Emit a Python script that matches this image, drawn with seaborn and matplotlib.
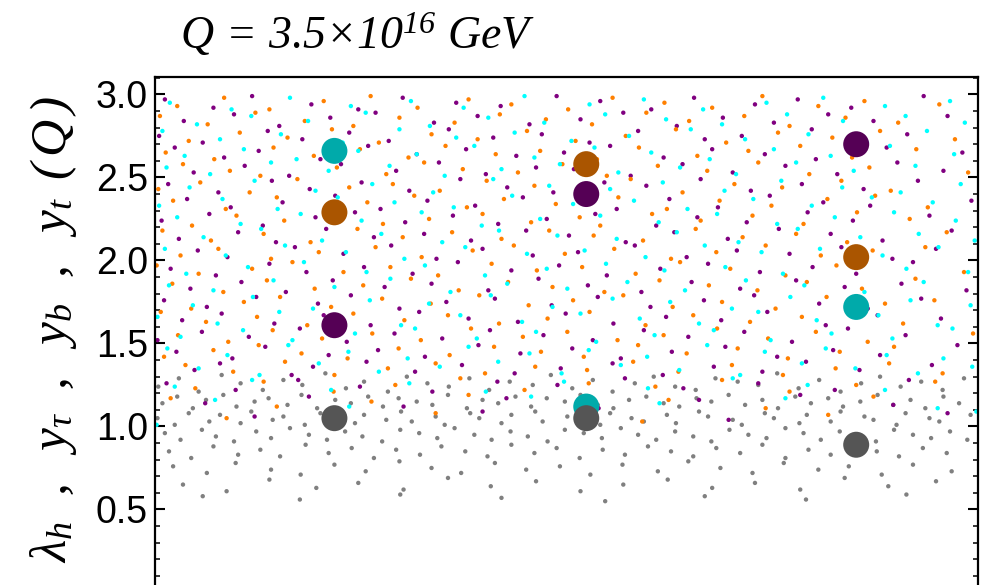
import matplotlib
matplotlib.use("Agg")
import matplotlib.pyplot as plt
import pandas as pd
import seaborn as sns
from matplotlib.ticker import MultipleLocator

# ---------------- data (read / estimated from the picture) ----------------
# x axis has no visible scale: positions are given on an arbitrary 0..1000 range
purple_x = [12, 71, 118, 190, 247, 301, 366, 420, 488, 541, 603, 655, 729, 781, 846, 934,
            35, 96, 151, 213, 268, 339, 392, 455, 517, 569, 634, 690, 752, 818, 873, 963,
            5, 58, 137, 179, 236, 284, 357, 411, 470, 528, 587, 668, 713, 798, 857, 914,
            24, 84, 126, 201, 259, 318, 378, 439, 497, 553, 618, 677, 741, 803, 889, 981,
            47, 109, 163, 226, 293, 345, 402, 463, 509, 578, 641, 702, 766, 829, 902, 958,
            16, 77, 142, 188, 251, 309, 371, 428, 484, 546, 597, 663, 724, 786, 861, 927,
            39, 92, 155, 219, 274, 331, 389, 447, 521, 561, 625, 684, 747, 812, 869, 992,
            8, 66, 131, 195, 243, 304, 362, 417, 476, 535, 609, 659, 719, 793, 848, 941,
            29, 101, 147, 208, 266, 327, 384, 451, 503, 572, 631, 696, 758, 821, 884, 968,
            52, 88, 170, 229, 287, 342, 398, 459, 514, 583, 646, 707, 771, 834, 896, 949,
            19, 74, 139, 184, 254, 313, 368, 433, 491, 549, 614, 672, 735, 799, 852, 921,
            43, 105, 159, 216, 279, 336, 405, 466, 526, 591, 652, 711, 779, 838, 907, 986,
            11, 63, 123, 198, 238, 297, 354, 413, 482, 538, 602, 667, 728, 807, 866, 931,
            33, 81, 145, 205, 262, 321, 381, 441, 499, 557, 621, 688, 744, 815, 878, 955,
            3, 57, 114, 176, 233, 291, 349, 407, 472, 532, 594, 648, 716, 774, 842, 912,
            26, 94, 134, 211, 271, 328, 393, 444, 507, 566, 628, 693, 756, 824, 881, 975,
            48, 79, 166, 192, 257, 316, 373, 437, 493, 556, 617, 679, 738, 791, 856, 944,
            14, 98, 174, 249, 337, 416, 489, 571, 642, 733, 826, 916,
            61, 187, 302, 427, 539, 661, 784, 897,
            121, 398, 697, 963]
purple_y = [2.97, 2.92, 2.99, 2.94, 2.91, 2.98, 2.95, 2.93, 2.99, 2.96, 2.91, 2.98, 2.94, 2.97, 2.92, 2.99,
            2.84, 2.88, 2.81, 2.86, 2.89, 2.83, 2.87, 2.82, 2.85, 2.89, 2.81, 2.86, 2.83, 2.88, 2.84, 2.87,
            2.75, 2.71, 2.78, 2.73, 2.77, 2.72, 2.79, 2.74, 2.76, 2.71, 2.78, 2.73, 2.75, 2.79, 2.72, 2.76,
            2.68, 2.62, 2.66, 2.61, 2.69, 2.64, 2.67, 2.63, 2.65, 2.69, 2.62, 2.67, 2.64, 2.61, 2.68, 2.65,
            2.53, 2.57, 2.51, 2.58, 2.54, 2.59, 2.52, 2.56, 2.55, 2.51, 2.58, 2.53, 2.57, 2.52, 2.59, 2.54,
            2.46, 2.41, 2.48, 2.43, 2.47, 2.42, 2.49, 2.44, 2.41, 2.47, 2.45, 2.49, 2.42, 2.46, 2.43, 2.48,
            2.37, 2.32, 2.35, 2.39, 2.31, 2.36, 2.33, 2.38, 2.34, 2.31, 2.37, 2.32, 2.39, 2.35, 2.33, 2.36,
            2.24, 2.28, 2.21, 2.26, 2.29, 2.23, 2.27, 2.22, 2.25, 2.28, 2.21, 2.26, 2.23, 2.29, 2.24, 2.27,
            2.13, 2.17, 2.11, 2.19, 2.14, 2.16, 2.12, 2.18, 2.15, 2.11, 2.17, 2.13, 2.19, 2.16, 2.12, 2.18,
            2.06, 2.02, 2.08, 2.04, 2.09, 2.01, 2.07, 2.03, 2.05, 2.09, 2.02, 2.06, 2.04, 2.08, 2.01, 2.07,
            1.95, 1.91, 1.98, 1.93, 1.96, 1.92, 1.99, 1.94, 1.97, 1.91, 1.95, 1.98, 1.93, 1.96, 1.92, 1.99,
            1.83, 1.87, 1.81, 1.88, 1.84, 1.86, 1.82, 1.89, 1.85, 1.81, 1.87, 1.83, 1.88, 1.84, 1.86, 1.82,
            1.76, 1.72, 1.78, 1.74, 1.79, 1.71, 1.75, 1.77, 1.73, 1.78, 1.72, 1.76, 1.79, 1.74, 1.71, 1.77,
            1.64, 1.68, 1.62, 1.67, 1.61, 1.69, 1.65, 1.63, 1.68, 1.62, 1.66, 1.64, 1.69, 1.61, 1.67, 1.65,
            1.52, 1.57, 1.54, 1.59, 1.51, 1.56, 1.53, 1.58, 1.55, 1.52, 1.58, 1.54, 1.57, 1.51, 1.59, 1.55,
            1.45, 1.41, 1.48, 1.43, 1.46, 1.42, 1.49, 1.44, 1.47, 1.41, 1.45, 1.48, 1.42, 1.46, 1.43, 1.49,
            1.34, 1.38, 1.31, 1.36, 1.39, 1.33, 1.37, 1.32, 1.35, 1.38, 1.31, 1.36, 1.33, 1.39, 1.34, 1.37,
            1.26, 1.22, 1.28, 1.24, 1.21, 1.27, 1.25, 1.29, 1.23, 1.26, 1.22, 1.28,
            1.14, 1.18, 1.12, 1.17, 1.11, 1.16, 1.19, 1.13,
            1.06, 1.09, 1.04, 1.08]

orange_x = [27, 84, 139, 205, 262, 319, 381, 433, 502, 556, 619, 677, 738, 806, 862, 953,
            6, 64, 122, 182, 241, 297, 364, 419, 475, 531, 597, 649, 716, 771, 839, 903,
            41, 103, 161, 215, 272, 336, 392, 452, 511, 572, 633, 694, 757, 823, 881, 972,
            13, 72, 144, 193, 249, 308, 353, 414, 468, 537, 588, 659, 721, 784, 847, 925,
            34, 91, 128, 221, 281, 327, 374, 441, 495, 549, 611, 671, 733, 795, 868, 988,
            4, 55, 115, 173, 236, 289, 346, 403, 461, 524, 578, 641, 704, 762, 834, 894,
            22, 86, 148, 209, 258, 315, 379, 424, 487, 563, 622, 686, 749, 817, 875, 939,
            45, 99, 157, 226, 277, 333, 398, 457, 516, 541, 604, 663, 726, 788, 853, 917,
            9, 68, 132, 189, 246, 301, 361, 421, 479, 533, 593, 657, 714, 779, 841, 962,
            31, 77, 141, 199, 268, 324, 386, 436, 498, 558, 627, 682, 742, 809, 872, 936,
            2, 53, 118, 167, 229, 286, 344, 409, 464, 519, 584, 638, 699, 766, 828, 983,
            21, 83, 136, 194, 253, 311, 369, 429, 483, 546, 613, 673, 732, 792, 859, 924,
            44, 108, 152, 214, 276, 335, 394, 454, 508, 569, 629, 689, 754, 816, 887, 947,
            7, 62, 124, 185, 241, 303, 356, 418, 477, 528, 596, 654, 723, 786, 845, 909,
            28, 89, 143, 203, 264, 323, 384, 447, 501, 562, 618, 683, 745, 803, 866, 994,
            11, 71, 126, 178, 234, 296, 358, 412, 469, 521, 587, 646, 708, 769, 832, 898,
            37, 95, 158, 218, 283, 341, 401, 462, 525, 581, 636, 701, 763, 827, 892, 957,
            49, 132, 217, 292, 371, 449, 527, 608, 689, 771, 852, 948,
            19, 148, 263, 381, 518, 624, 742, 873,
            87, 341, 592, 818]
orange_y = [2.93, 2.98, 2.91, 2.96, 2.99, 2.92, 2.97, 2.94, 2.91, 2.98, 2.95, 2.92, 2.99, 2.93, 2.96, 2.94,
            2.87, 2.82, 2.89, 2.84, 2.81, 2.86, 2.83, 2.88, 2.85, 2.82, 2.89, 2.84, 2.87, 2.81, 2.86, 2.83,
            2.72, 2.77, 2.74, 2.79, 2.71, 2.76, 2.73, 2.78, 2.72, 2.75, 2.79, 2.71, 2.77, 2.74, 2.78, 2.73,
            2.65, 2.61, 2.68, 2.63, 2.67, 2.62, 2.69, 2.64, 2.66, 2.61, 2.68, 2.63, 2.66, 2.69, 2.62, 2.67,
            2.58, 2.54, 2.51, 2.56, 2.52, 2.59, 2.55, 2.53, 2.58, 2.51, 2.57, 2.54, 2.59, 2.52, 2.56, 2.53,
            2.43, 2.47, 2.41, 2.49, 2.44, 2.46, 2.42, 2.48, 2.45, 2.43, 2.49, 2.41, 2.46, 2.44, 2.48, 2.42,
            2.36, 2.31, 2.38, 2.33, 2.35, 2.39, 2.32, 2.37, 2.34, 2.38, 2.31, 2.36, 2.33, 2.37, 2.39, 2.32,
            2.21, 2.27, 2.24, 2.29, 2.22, 2.25, 2.28, 2.23, 2.26, 2.21, 2.28, 2.24, 2.27, 2.22, 2.29, 2.25,
            2.18, 2.12, 2.16, 2.11, 2.19, 2.14, 2.17, 2.13, 2.18, 2.15, 2.12, 2.19, 2.14, 2.16, 2.11, 2.17,
            2.03, 2.07, 2.01, 2.05, 2.08, 2.02, 2.06, 2.09, 2.04, 2.07, 2.01, 2.05, 2.09, 2.03, 2.06, 2.08,
            1.97, 1.92, 1.95, 1.99, 1.93, 1.96, 1.91, 1.98, 1.94, 1.96, 1.92, 1.99, 1.95, 1.91, 1.97, 1.93,
            1.86, 1.81, 1.88, 1.83, 1.85, 1.89, 1.82, 1.87, 1.84, 1.81, 1.88, 1.85, 1.82, 1.87, 1.83, 1.89,
            1.71, 1.75, 1.78, 1.72, 1.77, 1.74, 1.79, 1.73, 1.76, 1.79, 1.72, 1.75, 1.71, 1.78, 1.74, 1.76,
            1.69, 1.63, 1.66, 1.61, 1.68, 1.64, 1.67, 1.62, 1.65, 1.69, 1.61, 1.67, 1.63, 1.66, 1.68, 1.62,
            1.55, 1.51, 1.58, 1.53, 1.56, 1.52, 1.59, 1.54, 1.57, 1.52, 1.55, 1.59, 1.53, 1.57, 1.51, 1.56,
            1.42, 1.46, 1.49, 1.44, 1.41, 1.47, 1.43, 1.48, 1.45, 1.42, 1.49, 1.44, 1.47, 1.41, 1.45, 1.48,
            1.37, 1.33, 1.39, 1.31, 1.35, 1.38, 1.32, 1.36, 1.34, 1.39, 1.33, 1.37, 1.31, 1.35, 1.38, 1.32,
            1.23, 1.27, 1.21, 1.25, 1.29, 1.22, 1.26, 1.24, 1.28, 1.21, 1.25, 1.27,
            1.17, 1.12, 1.15, 1.19, 1.13, 1.16, 1.11, 1.18,
            1.05, 1.08, 1.03, 1.07]

cyan_x = [18, 93, 164, 238, 311, 375, 449, 528, 594, 666, 743, 812, 887, 966,
          51, 117, 186, 256, 334, 405, 473, 547, 621, 689, 768, 836, 912, 984,
          9, 79, 153, 228, 297, 366, 437, 506, 576, 651, 717, 794, 865, 938,
          36, 108, 172, 247, 318, 388, 461, 534, 603, 674, 752, 821, 893, 971,
          14, 67, 141, 211, 285, 352, 421, 492, 563, 638, 706, 779, 849, 924,
          42, 121, 195, 264, 338, 411, 479, 553, 617, 692, 761, 835, 906, 979,
          5, 82, 149, 222, 291, 363, 434, 508, 582, 647, 727, 798, 871, 945,
          27, 104, 177, 251, 324, 397, 468, 541, 612, 683, 756, 826, 898, 973,
          59, 129, 203, 275, 349, 418, 489, 561, 634, 709, 781, 857, 928, 996,
          12, 86, 158, 232, 303, 377, 452, 522, 596, 668, 737, 808, 884, 952,
          38, 113, 181, 257, 328, 401, 476, 548, 619, 693, 763, 842, 913, 988,
          17, 71, 144, 218, 286, 359, 428, 501, 574, 644, 718, 789, 862, 934,
          46, 119, 192, 261, 333, 408, 483, 556, 626, 701, 772, 846, 918, 991,
          3, 76, 151, 226, 299, 371, 446, 517, 589, 661, 733, 804, 879, 951,
          31, 107, 167, 243, 316, 391, 463, 536, 607, 679, 748, 822, 896, 969,
          15, 88, 162, 235, 307, 381, 455, 527, 598, 671, 741, 815, 889, 958,
          53, 127, 199, 272, 346, 417, 494, 566, 637, 711, 786, 851, 927, 993,
          24, 118, 214, 309, 402, 497, 599, 702, 793, 887,
          73, 236, 457, 613, 766, 951,
          2, 512, 998]
cyan_y = [2.95, 2.91, 2.98, 2.93, 2.96, 2.92, 2.99, 2.94, 2.97, 2.91, 2.95, 2.98, 2.93, 2.96,
          2.82, 2.87, 2.84, 2.89, 2.81, 2.86, 2.83, 2.88, 2.85, 2.82, 2.88, 2.84, 2.87, 2.83,
          2.78, 2.73, 2.76, 2.71, 2.79, 2.74, 2.77, 2.72, 2.75, 2.79, 2.73, 2.76, 2.71, 2.78,
          2.63, 2.67, 2.61, 2.66, 2.64, 2.69, 2.62, 2.68, 2.65, 2.61, 2.67, 2.63, 2.69, 2.64,
          2.56, 2.52, 2.59, 2.54, 2.57, 2.51, 2.55, 2.58, 2.53, 2.56, 2.52, 2.59, 2.54, 2.57,
          2.44, 2.48, 2.42, 2.46, 2.41, 2.49, 2.45, 2.43, 2.47, 2.42, 2.48, 2.44, 2.41, 2.46,
          2.33, 2.37, 2.31, 2.38, 2.35, 2.32, 2.39, 2.34, 2.36, 2.31, 2.37, 2.33, 2.38, 2.35,
          2.26, 2.22, 2.28, 2.24, 2.29, 2.21, 2.25, 2.27, 2.23, 2.28, 2.22, 2.26, 2.29, 2.24,
          2.14, 2.19, 2.12, 2.16, 2.11, 2.18, 2.15, 2.13, 2.17, 2.11, 2.19, 2.14, 2.16, 2.12,
          2.07, 2.03, 2.09, 2.05, 2.01, 2.08, 2.04, 2.06, 2.02, 2.09, 2.05, 2.07, 2.03, 2.08,
          1.92, 1.96, 1.99, 1.93, 1.97, 1.91, 1.95, 1.98, 1.94, 1.96, 1.92, 1.99, 1.95, 1.93,
          1.85, 1.82, 1.88, 1.84, 1.89, 1.81, 1.86, 1.83, 1.87, 1.82, 1.88, 1.85, 1.81, 1.87,
          1.73, 1.78, 1.71, 1.76, 1.74, 1.79, 1.72, 1.77, 1.75, 1.71, 1.78, 1.74, 1.76, 1.73,
          1.66, 1.62, 1.69, 1.64, 1.61, 1.67, 1.63, 1.68, 1.65, 1.62, 1.69, 1.64, 1.67, 1.61,
          1.54, 1.58, 1.52, 1.56, 1.59, 1.53, 1.57, 1.51, 1.55, 1.58, 1.52, 1.56, 1.53, 1.59,
          1.47, 1.43, 1.49, 1.45, 1.41, 1.48, 1.44, 1.46, 1.42, 1.49, 1.45, 1.47, 1.43, 1.41,
          1.35, 1.31, 1.38, 1.33, 1.36, 1.39, 1.32, 1.37, 1.34, 1.31, 1.38, 1.35, 1.32, 1.36,
          1.24, 1.28, 1.22, 1.26, 1.21, 1.27, 1.23, 1.29, 1.25, 1.22,
          1.16, 1.12, 1.18, 1.14, 1.17, 1.11,
          1.01, 1.04, 1.09]

gray_x = [4, 29, 53, 81, 104, 131, 156, 179, 207, 232, 254, 283, 306, 331, 357, 382, 406, 431, 459, 481,
          507, 532, 556, 583, 606, 632, 657, 681, 708, 733, 756, 782, 807, 833, 858, 881, 906, 931, 957, 983,
          9, 27, 46, 62, 83, 99, 121, 138, 161, 178, 197, 219, 238, 259, 277, 296, 318, 337, 356, 379,
          398, 417, 438, 457, 476, 498, 517, 538, 557, 576, 597, 618, 637, 658, 676, 697, 717, 738, 757, 778,
          797, 818, 836, 857, 878, 897, 918, 936, 958, 977,
          3, 24, 41, 66, 79, 104, 117, 143, 156, 182, 201, 214, 243, 254, 281, 299, 312, 341, 352, 383,
          394, 421, 433, 462, 471, 501, 512, 541, 553, 579, 594, 622, 633, 661, 672, 702, 713, 741, 752, 783,
          792, 821, 833, 862, 873, 901, 912, 941, 953, 991,
          12, 31, 57, 74, 96, 123, 141, 164, 187, 209, 231, 252, 276, 298, 321, 343, 364, 388, 409, 432,
          453, 477, 498, 521, 543, 566, 587, 609, 632, 654, 676, 698, 721, 743, 766, 788, 809, 832, 854, 876,
          898, 921, 943, 966, 987,
          17, 44, 71, 101, 128, 152, 183, 211, 239, 266, 293, 322, 348, 377, 404, 433, 461, 488, 516, 544,
          571, 599, 627, 654, 682, 711, 738, 766, 794, 821, 849, 877, 904, 933, 962,
          22, 63, 98, 141, 177, 218, 256, 297, 336, 372, 413, 451, 492, 529, 568, 611, 648, 687, 726, 764,
          806, 843, 883, 921, 968,
          34, 87, 139, 196, 247, 302, 356, 408, 463, 517, 569, 623, 677, 729, 784, 838, 891, 949,
          58, 176, 298, 421, 547, 668, 791, 913]
gray_y = [1.24, 1.29, 1.21, 1.31, 1.26, 1.22, 1.28, 1.25, 1.32, 1.23, 1.27, 1.21, 1.30, 1.26, 1.24, 1.29, 1.22, 1.27, 1.25, 1.31,
          1.23, 1.28, 1.21, 1.26, 1.30, 1.24, 1.22, 1.29, 1.27, 1.25, 1.32, 1.23, 1.28, 1.21, 1.26, 1.30, 1.24, 1.27, 1.22, 1.29,
          1.14, 1.18, 1.11, 1.16, 1.19, 1.12, 1.15, 1.17, 1.13, 1.19, 1.11, 1.16, 1.14, 1.18, 1.12, 1.17, 1.15, 1.13, 1.19, 1.11,
          1.16, 1.14, 1.18, 1.12, 1.17, 1.15, 1.19, 1.13, 1.11, 1.16, 1.18, 1.14, 1.12, 1.17, 1.15, 1.19, 1.13, 1.16, 1.11, 1.18,
          1.14, 1.17, 1.12, 1.15, 1.19, 1.13, 1.16, 1.11, 1.18, 1.14,
          1.05, 1.01, 1.08, 1.03, 1.07, 1.02, 1.09, 1.04, 1.06, 1.01, 1.08, 1.05, 1.02, 1.07, 1.04, 1.09, 1.03, 1.06, 1.01, 1.08,
          1.05, 1.02, 1.07, 1.09, 1.03, 1.06, 1.04, 1.01, 1.08, 1.05, 1.03, 1.07, 1.02, 1.09, 1.06, 1.04, 1.01, 1.08, 1.05, 1.02,
          1.07, 1.03, 1.09, 1.06, 1.04, 1.01, 1.08, 1.05, 1.03, 1.07,
          0.96, 0.92, 0.98, 0.94, 0.91, 0.97, 0.93, 0.99, 0.95, 0.92, 0.97, 0.94, 0.91, 0.98, 0.96, 0.93, 0.99, 0.95, 0.92, 0.97,
          0.94, 0.91, 0.98, 0.96, 0.93, 0.99, 0.95, 0.92, 0.97, 0.94, 0.91, 0.98, 0.95, 0.93, 0.99, 0.96, 0.92, 0.97, 0.94, 0.91,
          0.98, 0.95, 0.93, 0.97, 0.92,
          0.85, 0.81, 0.88, 0.83, 0.86, 0.82, 0.89, 0.84, 0.87, 0.81, 0.86, 0.83, 0.88, 0.85, 0.82, 0.89, 0.84, 0.87, 0.81, 0.86,
          0.83, 0.88, 0.85, 0.82, 0.87, 0.84, 0.89, 0.81, 0.86, 0.83, 0.88, 0.85, 0.82, 0.87, 0.84,
          0.76, 0.72, 0.78, 0.74, 0.71, 0.77, 0.73, 0.79, 0.75, 0.72, 0.78, 0.74, 0.76, 0.71, 0.77, 0.73, 0.79, 0.75, 0.72, 0.78,
          0.74, 0.76, 0.71, 0.77, 0.73,
          0.65, 0.61, 0.68, 0.63, 0.66, 0.62, 0.69, 0.64, 0.67, 0.61, 0.65, 0.68, 0.63, 0.66, 0.62, 0.69, 0.64, 0.67,
          0.58, 0.56, 0.59, 0.57, 0.55, 0.58, 0.56, 0.59]

# three benchmark points (large circles)
bench_x = [218, 524, 852]
bench_cyan = [2.66, 1.12, 1.72]
bench_orange = [2.29, 2.58, 2.02]
bench_purple = [1.61, 2.40, 2.70]
bench_gray = [1.05, 1.05, 0.89]

series_names = ["gray", "purple", "orange", "cyan"]
small_colors = {"gray": "#808080", "purple": "#800080", "orange": "#FF8000", "cyan": "#00FFFF"}
big_colors = {"cyan": "#00AAAA", "orange": "#AA5500", "purple": "#550055", "gray": "#555555"}

title_text = r"$Q\,=\,3.5{\times}10^{16}\ GeV$"
ylabel_text = r"$\lambda_h\ \,\,,\ \,\,y_\tau\ \,\,,\ \,\,y_b\ \,\,,\ \,\,y_t\,\,\,(\,Q\,)$"
yticks = [0.5, 1.0, 1.5, 2.0, 2.5, 3.0]

# ---------------- build tables ----------------
small = pd.concat([
    pd.DataFrame({"x": gray_x, "y": gray_y, "s": "gray"}),
    pd.DataFrame({"x": purple_x, "y": purple_y, "s": "purple"}),
    pd.DataFrame({"x": orange_x, "y": orange_y, "s": "orange"}),
    pd.DataFrame({"x": cyan_x, "y": cyan_y, "s": "cyan"}),
], ignore_index=True)

big = pd.concat([
    pd.DataFrame({"x": bench_x, "y": bench_cyan, "s": "cyan"}),
    pd.DataFrame({"x": bench_x, "y": bench_orange, "s": "orange"}),
    pd.DataFrame({"x": bench_x, "y": bench_purple, "s": "purple"}),
    pd.DataFrame({"x": bench_x, "y": bench_gray, "s": "gray"}),
], ignore_index=True)

# ---------------- style ----------------
sns.set_style("white")
plt.rcParams.update({
    "font.family": ["Liberation Sans", "DejaVu Sans"],
    "mathtext.fontset": "custom",
    "mathtext.rm": "Liberation Serif:italic",
    "mathtext.it": "Liberation Serif:italic",
    "mathtext.bf": "Liberation Serif:bold",
})

fig = plt.figure(figsize=(9.9, 5.85), dpi=100)
ax = fig.add_axes([155 / 990, 1 - 592.5 / 585, 823 / 990, (592.5 - 77) / 585])

sns.scatterplot(data=small, x="x", y="y", hue="s", palette=small_colors,
                hue_order=series_names, s=10, linewidth=0, legend=False, ax=ax, zorder=2)
sns.scatterplot(data=big, x="x", y="y", hue="s", palette=big_colors,
                hue_order=["cyan", "orange", "purple", "gray"], s=350, linewidth=0,
                legend=False, ax=ax, zorder=3)

ax.set_xlim(0, 1000)
ax.set_ylim(0, 3.105)
ax.set_xticks([])
ax.set_xlabel("")
ax.set_yticks(yticks)
ax.set_yticklabels([f"{v:.1f}" for v in yticks])
ax.yaxis.set_minor_locator(MultipleLocator(0.1))
ax.tick_params(axis="y", which="major", direction="in", length=7, width=1.5,
               labelsize=27, pad=5, left=True, right=True, colors="black")
ax.tick_params(axis="y", which="minor", direction="in", length=3.8, width=1.3,
               left=True, right=True)
for sp in ax.spines.values():
    sp.set_linewidth(1.6)
    sp.set_color("black")

ax.set_ylabel(ylabel_text, fontsize=37, color="black")
ax.yaxis.set_label_coords(-0.092, 0.51)

fig.text(180 / 990, 1 - 49 / 585, title_text, fontsize=33, ha="left", va="baseline", color="black")

fig.savefig("out.png", dpi=100)
